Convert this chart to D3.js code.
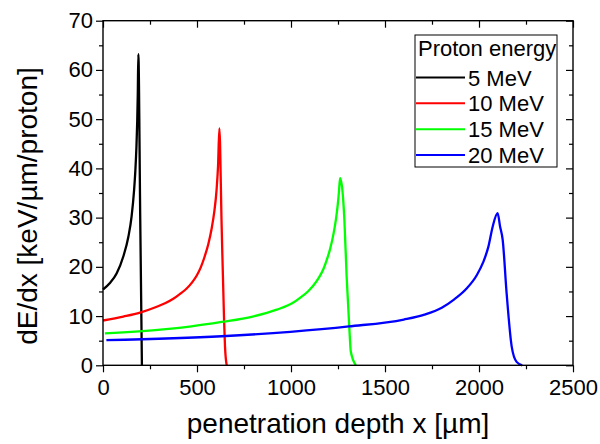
<!DOCTYPE html>
<html>
<head>
<meta charset="utf-8">
<script src="https://cdn.jsdelivr.net/npm/d3@7/dist/d3.min.js"></script>
<style>
  html, body { margin: 0; padding: 0; background: #fff; }
  svg { display: block; font-family: "Liberation Sans", Arial, sans-serif; }
</style>
</head>
<body>
<svg id="chart" width="600" height="444"></svg>
<script>
// Stopping power curves (Bragg curves) for protons of several energies
const energies = ["5 MeV", "10 MeV", "15 MeV", "20 MeV"];
const colors = ["#000000", "#ff0000", "#00ff00", "#0000ff"];

const depth5  = [0, 37, 73, 108, 135, 152, 165, 172, 178, 182, 185, 188, 198, 207];
const dedx5   = [15.4, 16.7, 18.7, 22.1, 26.1, 30.2, 35.4, 39.5, 44.5, 49.5, 55.0, 63.2, 30.0, 0];

const depth10 = [0, 108, 197, 286, 330, 374, 410, 445, 475, 498, 520, 540, 560, 578, 592, 604, 612, 619, 631, 644, 649, 658];
const dedx10  = [9.1, 9.9, 10.7, 11.9, 12.6, 13.5, 14.5, 15.6, 16.9, 18.2, 19.9, 22.0, 24.6, 27.8, 31.2, 35.6, 40.5, 48.1, 28.5, 9.2, 3.8, 0];

const depth15 = [10, 320, 470, 631, 796, 924, 1015, 1048, 1090, 1119, 1150, 1172, 1192, 1207, 1225, 1238, 1248, 1255, 1261, 1275, 1284, 1296, 1310, 1318, 1345];
const dedx15  = [6.5, 7.3, 7.9, 8.8, 9.9, 11.3, 12.8, 13.7, 15.0, 16.2, 17.9, 19.5, 21.6, 23.5, 26.5, 29.4, 32.4, 35.2, 38.0, 34.9, 29.5, 18.0, 7.8, 2.8, 0];

const depth20 = [18, 631, 997, 1308, 1600, 1710, 1802, 1865, 1934, 1988, 2023, 2050, 2073, 2099, 2112, 2126, 2147, 2174, 2200, 2230];
const dedx20  = [5.1, 5.9, 6.8, 7.9, 9.3, 10.3, 11.7, 13.3, 15.6, 18.3, 21.0, 24.1, 28.2, 30.9, 28.2, 25.5, 14.6, 3.8, 0.7, 0];

const xMajorTicks = [0, 500, 1000, 1500, 2000, 2500];
const xMinorTicks = [250, 750, 1250, 1750, 2250];
const yMajorTicks = [0, 10, 20, 30, 40, 50, 60, 70];
const yMinorTicks = [5, 15, 25, 35, 45, 55, 65];

const xTitle = "penetration depth x [µm]";
const yTitle = "dE/dx [keV/µm/proton]";
const legendTitle = "Proton energy";

const series = [
  { name: energies[0], color: colors[0], x: depth5,  y: dedx5 },
  { name: energies[1], color: colors[1], x: depth10, y: dedx10 },
  { name: energies[2], color: colors[2], x: depth15, y: dedx15 },
  { name: energies[3], color: colors[3], x: depth20, y: dedx20 }
];

const W = 600, H = 444;
const margin = { left: 103, right: 27, top: 20.7, bottom: 78.7 };
const iw = W - margin.left - margin.right;
const ih = H - margin.top - margin.bottom;

const svg = d3.select("#chart");
const g = svg.append("g").attr("transform", `translate(${margin.left},${margin.top})`);

const x = d3.scaleLinear().domain([0, 2500]).range([0, iw]);
const y = d3.scaleLinear().domain([0, 70]).range([ih, 0]);

// Curves
const line = d3.line()
  .x(d => x(d[0]))
  .y(d => y(d[1]))
  .curve(d3.curveMonotoneX);

const plot = g.append("g");
series.forEach(s => {
  const pts = s.x.map((v, i) => [v, s.y[i]]);
  plot.append("path")
    .datum(pts)
    .attr("d", line)
    .attr("fill", "none")
    .attr("stroke", s.color)
    .attr("stroke-width", 2.3)
    .attr("stroke-linejoin", "round");
});

// Axis helper: strips domain line and styles ticks
function styleAxis(sel) {
  sel.select(".domain").remove();
  sel.selectAll(".tick line").attr("stroke", "#000").attr("stroke-width", 1.2);
  sel.selectAll(".tick text").attr("fill", "#000").attr("font-size", 22);
}

function addAxis(axis, transform) {
  const a = g.append("g");
  if (transform) a.attr("transform", transform);
  a.call(axis);
  styleAxis(a);
  return a;
}

// Bottom axis (outward ticks, labelled)
addAxis(d3.axisBottom(x).tickValues(xMajorTicks).tickSizeInner(7).tickSizeOuter(0).tickPadding(7).tickFormat(d3.format("d")), `translate(0,${ih})`);
addAxis(d3.axisBottom(x).tickValues(xMinorTicks).tickSizeInner(4).tickSizeOuter(0).tickFormat(""), `translate(0,${ih})`);

// Left axis (outward ticks, labelled)
addAxis(d3.axisLeft(y).tickValues(yMajorTicks).tickSizeInner(7).tickSizeOuter(0).tickPadding(3).tickFormat(d3.format("d")));
addAxis(d3.axisLeft(y).tickValues(yMinorTicks).tickSizeInner(4).tickSizeOuter(0).tickFormat(""));

// Top axis (inward ticks, no labels)
addAxis(d3.axisTop(x).tickValues(xMajorTicks).tickSizeInner(-7).tickSizeOuter(0).tickFormat(""));
addAxis(d3.axisTop(x).tickValues(xMinorTicks).tickSizeInner(-4).tickSizeOuter(0).tickFormat(""));

// Right axis (inward ticks, no labels)
addAxis(d3.axisRight(y).tickValues(yMajorTicks).tickSizeInner(-7).tickSizeOuter(0).tickFormat(""), `translate(${iw},0)`);
addAxis(d3.axisRight(y).tickValues(yMinorTicks).tickSizeInner(-4).tickSizeOuter(0).tickFormat(""), `translate(${iw},0)`);

// Frame
g.append("rect")
  .attr("x", 0).attr("y", 0).attr("width", iw).attr("height", ih)
  .attr("fill", "none").attr("stroke", "#000").attr("stroke-width", 1.4);

// Axis titles
svg.append("text")
  .attr("x", margin.left + iw / 2)
  .attr("y", 433)
  .attr("text-anchor", "middle")
  .attr("font-size", 28)
  .attr("fill", "#000")
  .text(xTitle);

svg.append("text")
  .attr("transform", `translate(37,206) rotate(-90)`)
  .attr("text-anchor", "middle")
  .attr("font-size", 28)
  .attr("fill", "#000")
  .text(yTitle);

// Legend
const legend = svg.append("g");
legend.append("rect")
  .attr("x", 415).attr("y", 35).attr("width", 142).attr("height", 132)
  .attr("fill", "#fff").attr("stroke", "#000").attr("stroke-width", 1);
legend.append("text")
  .attr("x", 418).attr("y", 56)
  .attr("font-size", 22).attr("fill", "#000")
  .text(legendTitle);

const legendRows = d3.scaleLinear().domain([0, series.length - 1]).range([77.5, 155]);
series.forEach((s, i) => {
  const ly = legendRows(i);
  legend.append("line")
    .attr("x1", 416).attr("x2", 465).attr("y1", ly).attr("y2", ly)
    .attr("stroke", s.color).attr("stroke-width", 2);
  legend.append("text")
    .attr("x", 468).attr("y", ly + 8)
    .attr("font-size", 22).attr("fill", "#000")
    .text(s.name);
});
</script>
</body>
</html>
